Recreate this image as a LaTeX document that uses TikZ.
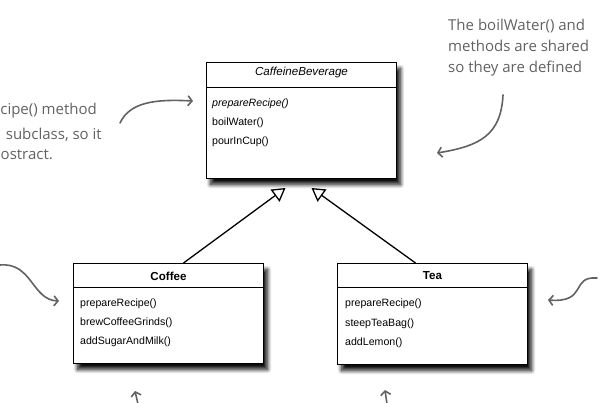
\documentclass[tikz,border=0pt]{standalone}
\usepackage{fontspec}
\setmainfont{Liberation Sans}
\newfontfamily\handfont{Open Sans}
\usetikzlibrary{arrows.meta,shadows.blur}
\definecolor{pencil}{RGB}{98,98,98}
\tikzset{
  classbox/.style={draw=black, line width=1pt, fill=white, minimum width=190pt, anchor=north west, inner sep=0pt,
    blur shadow={shadow xshift=4pt, shadow yshift=-6pt, shadow opacity=95, shadow blur steps=10, shadow blur radius=4pt}},
  classname/.style={font=\fontsize{11.6}{13}\selectfont, inner sep=0pt},
  method/.style={font=\fontsize{10.6}{12}\selectfont, anchor=west, inner sep=0pt},
  inherit/.style={line width=1.3pt, -{Triangle[open, length=13pt, width=15pt]}},
  note/.style={text=pencil, font=\handfont\fontsize{15}{21}\selectfont, inner sep=0pt},
  pencilarrow/.style={draw=pencil, line width=1.6pt, line cap=round, -{Straight Barb[length=4pt, width=10pt]}},
}
\begin{document}
\begin{tikzpicture}[x=1pt, y=-1pt]
    \useasboundingbox (0,0) rectangle (600,403);

    % classes
    \node[classbox, minimum height=116pt] (cb) at (206,62) {};
    \node[classbox, minimum height=100pt] (coffee) at (73,263) {};
    \node[classbox, minimum height=101pt] (tea) at (337,263) {};

    \draw[line width=1pt] ([yshift=-25.5pt]cb.north west) -- ([yshift=-25.5pt]cb.north east);
    \draw[line width=1pt] ([yshift=-25pt]coffee.north west) -- ([yshift=-25pt]coffee.north east);
    \draw[line width=1pt] ([yshift=-25pt]tea.north west) -- ([yshift=-25pt]tea.north east);

    \node[classname, font=\fontsize{11.6}{13}\selectfont\itshape] (cbname) at ([yshift=-11pt]cb.north) {CaffeineBeverage};
    \node[classname, font=\fontsize{11.6}{13}\selectfont\bfseries] (coffeename) at ([yshift=-13pt]coffee.north) {Coffee};
    \node[classname, font=\fontsize{11.6}{13}\selectfont\bfseries] (teaname) at ([yshift=-13pt]tea.north) {Tea};

    \node[method, font=\fontsize{10.6}{12}\selectfont\itshape] (cbm1) at ([xshift=6pt, yshift=-42pt]cb.north west) {prepareRecipe()};
    \node[method] (cbm2) at ([xshift=6pt, yshift=-61pt]cb.north west) {boilWater()};
    \node[method] (cbm3) at ([xshift=6pt, yshift=-80pt]cb.north west) {pourInCup()};

    \node[method] (coffeem1) at ([xshift=7pt, yshift=-41pt]coffee.north west) {prepareRecipe()};
    \node[method] (coffeem2) at ([xshift=7pt, yshift=-60pt]coffee.north west) {brewCoffeeGrinds()};
    \node[method] (coffeem3) at ([xshift=7pt, yshift=-79pt]coffee.north west) {addSugarAndMilk()};

    \node[method] (team1) at ([xshift=8pt, yshift=-41pt]tea.north west) {prepareRecipe()};
    \node[method] (team2) at ([xshift=8pt, yshift=-61pt]tea.north west) {steepTeaBag()};
    \node[method] (team3) at ([xshift=8pt, yshift=-80pt]tea.north west) {addLemon()};

    % inheritance
    \coordinate (cbleft) at ([xshift=-16pt, yshift=-9pt]cb.south);
    \coordinate (cbright) at ([xshift=10pt, yshift=-9pt]cb.south);
    \draw[inherit] ([xshift=15pt]coffee.north) -- (cbleft);
    \draw[inherit] ([xshift=-17pt]tea.north) -- (cbright);

    % notes
    \node[note, anchor=east] (leftnote1) at (97,111) {cipe() method};
    \node[note, anchor=east] (leftnote2) at (102,135) {subclass, so it};
    \node[note, anchor=east] (leftnote3) at (53,155) {ostract.};
    \node[note, anchor=west, align=left] (rightnote) at (448,48) {The boilWater() and\\methods are shared\\so they are defined};

    \coordinate (n1s) at (120,123);
    \coordinate (n1e) at (193,101);
    \coordinate (n2s) at (503,95);
    \coordinate (n2e) at (437,153);
    \coordinate (n3s) at (0,265);
    \coordinate (n3e) at (59,301);
    \coordinate (n4s) at (597,278);
    \coordinate (n4e) at (548,300);
    \coordinate (n5s) at (138,404);
    \coordinate (n5e) at (135,391);
    \coordinate (n6s) at (387,404);
    \coordinate (n6e) at (385,390);

    \draw[pencilarrow] (n1s) .. controls (130,102) and (155,99) .. (n1e);
    \draw[pencilarrow] (n2s) .. controls (501,135) and (480,146) .. (n2e);
    \draw[pencilarrow] (n3s) .. controls (32,262) and (32,300) .. (n3e);
    \draw[pencilarrow] (n4s) .. controls (570,276) and (588,303) .. (n4e);
    \draw[pencilarrow] (n5s) -- (n5e);
    \draw[pencilarrow] (n6s) -- (n6e);

\end{tikzpicture}
\end{document}
